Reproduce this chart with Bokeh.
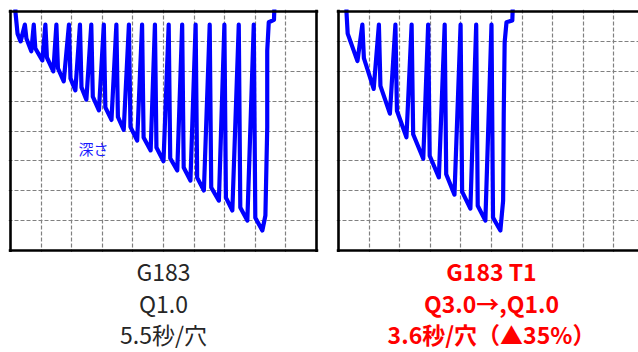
from bokeh.plotting import figure
from bokeh.models import Range1d, Span, Label, FixedTicker
from bokeh.layouts import row, column
from bokeh.core.properties import value
from bokeh.embed import file_html
from bokeh.resources import INLINE

# ---- data (time and depth in grid divisions; depth grows downward) ----
RETRACT = 0.44

# left: G183 Q1.0
L_start_t = [0.16, 0.16, 0.23]
L_start_d = [-0.3, 0.0, 0.74]
L_bot_t = [0.33, 0.68, 1.04, 1.40, 1.74, 2.12, 2.48, 2.89, 3.30, 3.70,
           4.14, 4.58, 5.00, 5.45, 5.88, 6.32, 6.81, 7.25, 7.74, 8.23]
L_bot_d = [1.00, 1.33, 1.64, 2.00, 2.34, 2.64, 2.95, 3.31, 3.63, 3.96,
           4.32, 4.65, 5.01, 5.32, 5.66, 5.99, 6.33, 6.66, 7.00, 7.33]
L_top_t = [0.47, 0.76, 1.14, 1.50, 1.91, 2.27, 2.64, 3.05, 3.46, 3.87,
           4.30, 4.72, 5.17, 5.61, 6.05, 6.51, 6.99, 7.46, 7.95]
L_rapid_t = [0.52, 0.81, 1.19, 1.55, 1.96, 2.32, 2.69, 3.10, 3.51, 3.92,
             4.35, 4.77, 5.22, 5.66, 6.10, 6.56, 7.04, 7.51, 8.00]
L_rapid_d = [0.90, 1.23, 1.54, 1.90, 2.24, 2.54, 2.85, 3.21, 3.53, 3.86,
             4.22, 4.55, 4.91, 5.22, 5.56, 5.89, 6.23, 6.56, 6.90]
L_end_t = [8.33, 8.39, 8.39, 8.44, 8.61, 8.63]
L_end_d = [6.83, 3.88, 1.31, 0.36, 0.28, -0.3]

# right: G183 T1 Q3.0 -> Q1.0
R_start_t = [0.26, 0.26, 0.30]
R_start_d = [-0.3, 0.0, 0.74]
R_bot_t = [0.62, 1.15, 1.68, 2.22, 2.77, 3.28, 3.79, 4.31, 4.80, 5.29]
R_bot_d = [1.66, 2.59, 3.42, 4.21, 4.93, 5.55, 6.13, 6.60, 7.00, 7.33]
R_top_t = [0.78, 1.32, 1.86, 2.39, 2.93, 3.47, 3.99, 4.50, 5.00]
R_rapid_t = [0.83, 1.37, 1.91, 2.44, 2.98, 3.52, 4.04, 4.55, 5.05]
R_rapid_d = [1.56, 2.49, 3.32, 4.11, 4.83, 5.45, 6.03, 6.50, 6.90]
R_end_t = [5.38, 5.40, 5.43, 5.49, 5.68, 5.70]
R_end_d = [6.33, 3.42, 1.03, 0.36, 0.30, -0.3]

L_texts = ["G183", "Q1.0", "5.5秒/穴"]
R_texts = ["G183 T1", "Q3.0→,Q1.0", "3.6秒/穴（▲35%）"]
DEPTH_LABEL = "深さ"

X_DIVS = 10
Y_DIVS = 8

PX_X = 30.6
PX_Y = 29.875
PAD = 2
PLOT_H = 252
TEXT_H = 352 - PLOT_H
FONT = "Noto Sans CJK JP"
TEXT_ROWS_Y = [270, 302, 333]


def build_path(st, sd, bt, bd, tt, rt, rd, et, ed):
    t = list(st)
    d = list(sd)
    for i in range(len(bt)):
        if i > 0:
            t += [tt[i - 1], rt[i - 1]]
            d += [RETRACT, rd[i - 1]]
        t.append(bt[i])
        d.append(bd[i])
    t += et
    d += ed
    return t, d


def make_panel(width, x_end, left_border, right_border):
    padx = PAD / PX_X
    pady = PAD / PX_Y
    x_start = -padx
    x_stop = x_end + padx if right_border else x_end
    frame_w = round((x_stop - x_start) * PX_X)
    frame_h = round(Y_DIVS * PX_Y + 2 * PAD)
    p = figure(width=width, height=PLOT_H, output_backend="svg", toolbar_location=None,
               x_range=Range1d(x_start, x_stop),
               y_range=Range1d(Y_DIVS + pady, -pady),
               min_border_left=left_border - PAD,
               min_border_right=width - (left_border - PAD) - frame_w,
               min_border_top=11 - PAD,
               min_border_bottom=PLOT_H - (11 - PAD) - frame_h)
    p.outline_line_color = None
    p.axis.visible = False
    p.xgrid.ticker = FixedTicker(ticks=list(range(1, X_DIVS)))
    p.ygrid.ticker = FixedTicker(ticks=list(range(1, Y_DIVS)))
    for g in (p.xgrid, p.ygrid):
        g.grid_line_color = "#808080"
        g.grid_line_dash = "4 2"
        g.grid_line_width = 1.2
    borders = [Span(location=0, dimension="height"),
               Span(location=0, dimension="width"),
               Span(location=Y_DIVS, dimension="width")]
    if right_border:
        borders.append(Span(location=X_DIVS, dimension="height"))
    for s in borders:
        s.line_color = "black"
        s.line_width = 2.6
        p.add_layout(s)
    return p


def make_text(width, x0, center_x, texts, rows_y, color, bold):
    t = figure(width=width, height=TEXT_H, output_backend="svg", toolbar_location=None,
               x_range=Range1d(x0, x0 + width), y_range=Range1d(352, PLOT_H),
               min_border=0, min_border_left=0, min_border_right=0,
               min_border_top=0, min_border_bottom=0)
    t.outline_line_color = None
    t.axis.visible = False
    t.grid.visible = False
    t.text(x=[center_x] * len(texts), y=rows_y, text=texts,
           text_align="center", text_baseline="middle",
           text_font=value(FONT), text_font_size="23px", text_color=color,
           text_font_style="bold" if bold else "normal")
    return t


left = make_panel(327, X_DIVS, 10, True)
lt, ld = build_path(L_start_t, L_start_d, L_bot_t, L_bot_d, L_top_t, L_rapid_t, L_rapid_d, L_end_t, L_end_d)
left.line(lt, ld, line_color="#0000FF", line_width=4.2, line_join="round")
left.add_layout(Label(x=2.71, y=4.6, text=DEPTH_LABEL, text_align="center", text_baseline="middle",
                      text_font=FONT, text_font_size="15px", text_color="#1a1aff"))

right = make_panel(311, 300 / PX_X, 11, False)
rt_, rd_ = build_path(R_start_t, R_start_d, R_bot_t, R_bot_d, R_top_t, R_rapid_t, R_rapid_d, R_end_t, R_end_d)
right.line(rt_, rd_, line_color="#0000FF", line_width=4.2, line_join="round")

left_txt = make_text(327, 0, 163, L_texts, TEXT_ROWS_Y, "#262626", False)
right_txt = make_text(311, 327, 491, R_texts, TEXT_ROWS_Y, "#FF0000", True)

layout = column(row(left, right), row(left_txt, right_txt))
open("out.html", "w").write(file_html(layout, INLINE))
